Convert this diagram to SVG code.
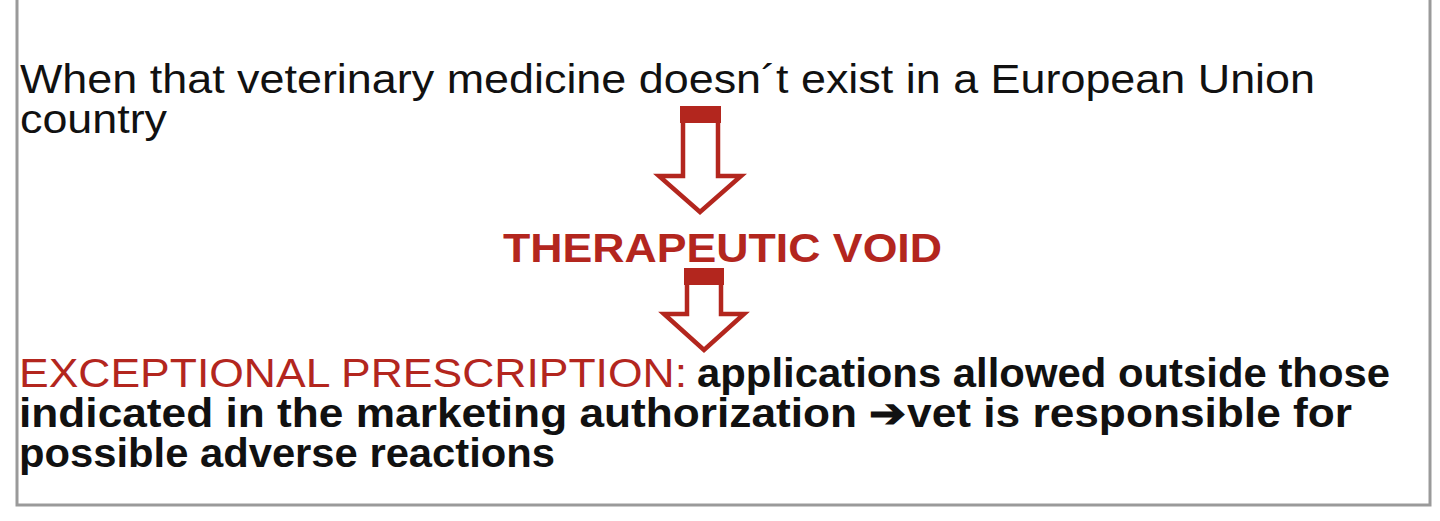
<svg xmlns="http://www.w3.org/2000/svg" width="1440" height="521" viewBox="0 0 1440 521">
<style>
.t{font-family:"Liberation Sans",Arial,sans-serif;font-size:40px;fill:#111}
.b{font-weight:bold}
.r{fill:#B3261E}
.arr{fill:#fff;stroke:#B3261E;stroke-width:4.5;stroke-linejoin:miter}
.bar{fill:#B3261E}
</style>
<rect width="1440" height="521" fill="#fff"/>
<rect id="frame" x="17" y="-10" width="1413" height="515" fill="none" stroke="#9a9a9a" stroke-width="3"/>
<g id="line1">
<text class="t" x="20" y="93" textLength="1295" lengthAdjust="spacingAndGlyphs">When that veterinary medicine doesn´t exist in a European Union</text>
<text class="t" x="20" y="133" textLength="147" lengthAdjust="spacingAndGlyphs">country</text>
</g>
<g id="void">
<text class="t b r" x="503" y="262" textLength="439" lengthAdjust="spacingAndGlyphs">THERAPEUTIC VOID</text>
</g>
<g id="exceptional">
<text class="t r" x="19" y="387" textLength="668" lengthAdjust="spacingAndGlyphs">EXCEPTIONAL PRESCRIPTION:</text>
<text class="t b" x="697" y="387" textLength="693" lengthAdjust="spacingAndGlyphs">applications allowed outside those</text>
<text class="t b" x="19" y="427" textLength="1333" lengthAdjust="spacingAndGlyphs">indicated in the marketing authorization ➔vet is responsible for</text>
<text class="t b" x="19" y="467" textLength="536" lengthAdjust="spacingAndGlyphs">possible adverse reactions</text>
</g>
<g id="connectors">
<polygon class="arr" points="683,112 718,112 718,176 741,176 700,212 659,176 683,176"/>
<rect class="bar" x="680" y="106" width="41" height="17"/>
<polygon class="arr" points="687,274 721,274 721,314 744,314 704,350 664,314 687,314"/>
<rect class="bar" x="684" y="268" width="40" height="17"/>
</g>
</svg>
